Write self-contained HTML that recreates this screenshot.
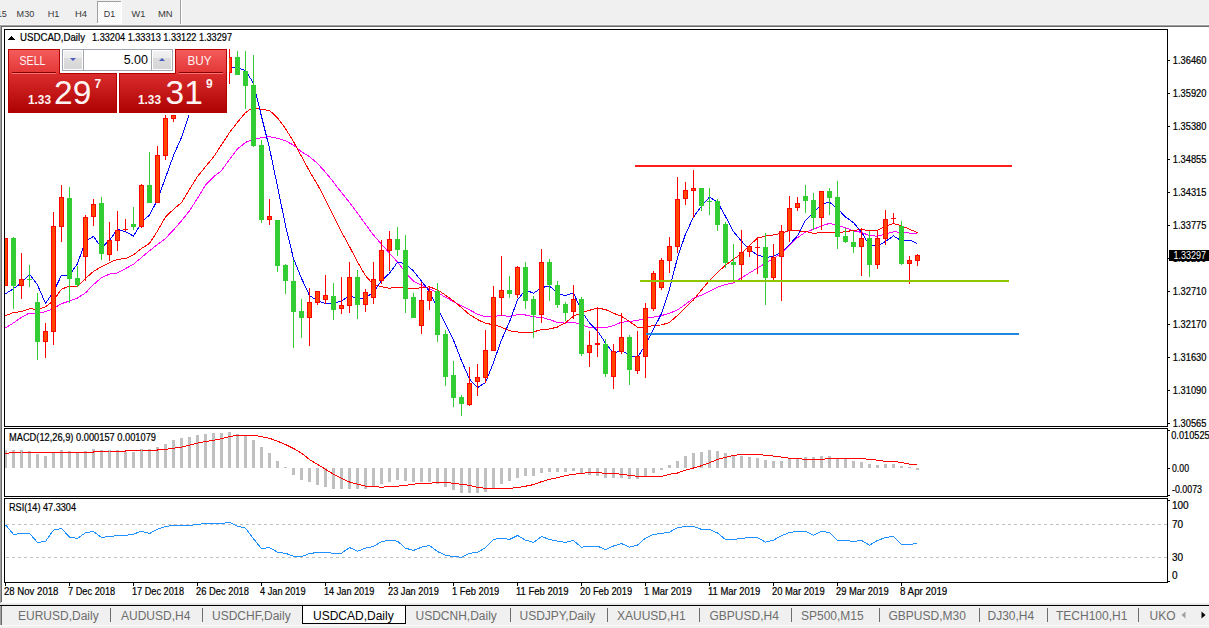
<!DOCTYPE html><html><head><meta charset="utf-8"><title>USDCAD,Daily</title><style>
html,body{margin:0;padding:0;background:#f0f0f0;}
body{width:1209px;height:628px;overflow:hidden;position:relative;}
svg{position:absolute;left:0;top:0;display:block}
text{font-family:"Liberation Sans",Arial,sans-serif;}
</style></head><body>
<svg width="1209" height="628" viewBox="0 0 1209 628">
<defs>
<linearGradient id="gTab" x1="0" y1="0" x2="0" y2="1"><stop offset="0" stop-color="#f45b5b"/><stop offset="1" stop-color="#e23535"/></linearGradient>
<linearGradient id="gPx" x1="0" y1="0" x2="0" y2="1"><stop offset="0" stop-color="#da2c2c"/><stop offset="1" stop-color="#ae0202"/></linearGradient>
<linearGradient id="gBtn" x1="0" y1="0" x2="0" y2="1"><stop offset="0" stop-color="#f2f2f2"/><stop offset="0.38" stop-color="#ebebeb"/><stop offset="0.4" stop-color="#dddddd"/><stop offset="1" stop-color="#d6d6d6"/></linearGradient>
<pattern id="dots" width="2" height="2" patternUnits="userSpaceOnUse"><rect width="2" height="2" fill="#f7f7f7"/><rect width="1" height="1" fill="#ffffff"/><rect x="1" y="1" width="1" height="1" fill="#ffffff"/></pattern>
<clipPath id="cMain"><rect x="5" y="30" width="1162" height="396"/></clipPath>
<clipPath id="cMacd"><rect x="5" y="429" width="1162" height="67"/></clipPath>
<clipPath id="cRsi"><rect x="5" y="499" width="1162" height="83"/></clipPath>
</defs>
<g shape-rendering="crispEdges">
<rect x="0" y="0" width="1209" height="25" fill="#f0f0f0"/>
<rect x="0" y="24" width="1209" height="1" fill="#f6f6f6"/>
<rect x="97" y="1" width="25" height="22" fill="url(#dots)"/>
<rect x="97" y="1" width="24" height="1" fill="#a0a0a0"/><rect x="97" y="1" width="1" height="22" fill="#a0a0a0"/>
<rect x="121" y="1" width="1" height="23" fill="#ffffff"/><rect x="97" y="23" width="25" height="1" fill="#ffffff"/>
<rect x="180" y="0" width="1" height="24" fill="#a0a0a0"/><rect x="181" y="0" width="1" height="24" fill="#ffffff"/>
<rect x="0" y="25" width="1209" height="1" fill="#a0a0a0"/>
<rect x="1" y="26" width="1208" height="1" fill="#696969"/>
<rect x="2" y="27" width="1207" height="576" fill="#ffffff"/>
<rect x="0" y="25" width="1" height="578" fill="#a0a0a0"/>
<rect x="1" y="26" width="1" height="576" fill="#696969"/>
<rect x="0" y="603" width="1209" height="1" fill="#f0f0f0"/>
<rect x="0" y="604" width="1209" height="1" fill="#e3e3e3"/>
<rect x="0" y="605" width="1209" height="1" fill="#000000"/>
<rect x="0" y="606" width="1209" height="19" fill="#f0f0f0"/>
<rect x="0" y="625" width="1209" height="1" fill="#fafafa"/>
<rect x="0" y="626" width="1209" height="2" fill="#f0f0f0"/>
<rect x="0" y="606" width="1" height="19" fill="#a0a0a0"/><rect x="1" y="606" width="1" height="19" fill="#696969"/>
<rect x="4.5" y="29.5" width="1163" height="397" fill="none" stroke="#000" stroke-width="1"/>
<rect x="4.5" y="428.5" width="1163" height="68" fill="none" stroke="#000" stroke-width="1"/>
<rect x="4.5" y="498.5" width="1163" height="84" fill="none" stroke="#000" stroke-width="1"/>
</g>
<g clip-path="url(#cMain)" shape-rendering="crispEdges">
<polyline points="5.5,328.0 13.5,322.9 21.5,317.3 29.5,313.0 37.5,313.0 45.5,311.7 53.5,308.5 61.5,303.7 69.5,301.0 77.5,298.0 85.5,292.9 93.5,284.6 101.5,277.7 109.5,274.1 117.5,273.0 125.5,268.6 133.5,264.2 141.5,257.5 149.5,250.8 157.5,244.4 165.5,238.4 173.5,229.9 181.5,220.8 189.5,210.8 197.5,198.3 205.5,185.2 213.5,176.9 221.5,170.6 229.5,159.5 237.5,149.0 245.5,142.4 253.5,139.4 261.5,137.8 269.5,136.6 277.5,138.3 285.5,140.8 293.5,145.1 301.5,151.7 309.5,156.7 317.5,163.5 325.5,172.3 333.5,182.1 341.5,192.6 349.5,202.4 357.5,213.1 365.5,224.2 373.5,235.1 381.5,244.2 389.5,253.2 397.5,262.0 405.5,272.6 413.5,281.2 421.5,285.3 429.5,289.1 437.5,292.5 445.5,297.3 453.5,301.6 461.5,305.9 469.5,309.9 477.5,314.2 485.5,317.0 493.5,316.4 501.5,315.6 509.5,316.4 517.5,314.6 525.5,315.0 533.5,316.8 541.5,317.4 549.5,319.6 557.5,322.4 565.5,323.1 573.5,322.1 581.5,324.8 589.5,327.5 597.5,327.9 605.5,327.8 613.5,325.5 621.5,322.2 629.5,321.5 637.5,320.4 645.5,318.4 653.5,317.1 661.5,315.6 669.5,313.3 677.5,309.9 685.5,304.4 693.5,298.1 701.5,295.2 709.5,291.1 717.5,287.1 725.5,284.6 733.5,282.9 741.5,277.8 749.5,272.9 757.5,268.1 765.5,263.2 773.5,258.6 781.5,253.2 789.5,245.2 797.5,237.6 805.5,232.2 813.5,229.3 821.5,225.9 829.5,223.4 837.5,225.3 845.5,227.8 853.5,230.8 861.5,232.4 869.5,235.6 877.5,236.2 885.5,234.1 893.5,231.8 901.5,232.3 909.5,233.1 917.5,233.4" fill="none" stroke="#ff00ff" stroke-width="1" shape-rendering="crispEdges"/>
<polyline points="5.5,315.7 13.5,312.5 21.5,311.7 29.5,308.8 37.5,309.3 45.5,306.9 53.5,300.5 61.5,289.1 69.5,286.2 77.5,286.5 85.5,278.5 93.5,271.4 101.5,266.6 109.5,262.6 117.5,259.3 125.5,258.7 133.5,254.8 141.5,248.5 149.5,243.4 157.5,231.0 165.5,216.8 173.5,209.4 181.5,202.6 189.5,189.4 197.5,176.5 205.5,166.7 213.5,157.1 221.5,144.8 229.5,132.6 237.5,122.2 245.5,112.6 253.5,107.2 261.5,109.5 269.5,110.4 277.5,117.8 285.5,128.6 293.5,141.6 301.5,156.4 309.5,171.2 317.5,184.6 325.5,199.6 333.5,216.2 341.5,231.9 349.5,246.6 357.5,261.9 365.5,275.7 373.5,284.6 381.5,286.7 389.5,288.2 397.5,287.2 405.5,288.4 413.5,288.8 421.5,287.6 429.5,286.9 437.5,289.8 445.5,295.2 453.5,301.0 461.5,307.6 469.5,314.6 477.5,319.5 485.5,323.4 493.5,324.6 501.5,327.2 509.5,330.8 517.5,332.0 525.5,332.2 533.5,332.0 541.5,329.4 549.5,329.0 557.5,327.0 565.5,322.7 573.5,316.2 581.5,312.8 589.5,310.3 597.5,308.0 605.5,309.6 613.5,313.2 621.5,316.3 629.5,321.4 637.5,327.3 645.5,327.8 653.5,325.1 661.5,325.0 669.5,322.4 677.5,315.4 685.5,307.3 693.5,299.9 701.5,290.0 709.5,280.4 717.5,272.5 725.5,265.1 733.5,259.3 741.5,253.6 749.5,245.4 757.5,238.2 765.5,236.1 773.5,235.0 781.5,233.1 789.5,230.6 797.5,230.8 805.5,231.5 813.5,233.4 821.5,232.5 829.5,232.2 837.5,233.0 845.5,231.6 853.5,230.4 861.5,229.5 869.5,230.7 877.5,230.1 885.5,226.2 893.5,223.6 901.5,225.8 909.5,229.2 917.5,232.7" fill="none" stroke="#ff0000" stroke-width="1" shape-rendering="crispEdges"/>
<polyline points="5.5,293.9 13.5,288.6 21.5,283.0 29.5,274.3 37.5,284.9 45.5,303.5 53.5,291.7 61.5,275.3 69.5,275.1 77.5,263.7 85.5,240.9 93.5,236.5 101.5,247.7 109.5,240.1 117.5,229.3 125.5,231.7 133.5,236.1 141.5,222.5 149.5,214.9 157.5,199.9 165.5,177.7 173.5,155.5 181.5,137.5 189.5,113.1 197.5,100.3 205.5,90.7 213.5,79.7 221.5,74.5 229.5,67.5 237.5,68.0 245.5,70.4 253.5,83.3 261.5,116.5 269.5,148.3 277.5,186.5 285.5,225.5 293.5,258.7 301.5,278.3 309.5,295.5 317.5,300.7 325.5,303.7 333.5,303.3 341.5,300.9 349.5,295.9 357.5,298.5 365.5,297.9 373.5,291.9 381.5,280.9 389.5,273.3 397.5,262.3 405.5,263.5 413.5,271.1 421.5,281.1 429.5,291.5 437.5,308.5 445.5,324.1 453.5,340.1 461.5,360.7 469.5,379.1 477.5,387.7 485.5,382.5 493.5,362.5 501.5,339.9 509.5,321.9 517.5,299.9 525.5,289.9 533.5,293.3 541.5,287.7 549.5,285.9 557.5,293.3 565.5,295.7 573.5,292.7 581.5,310.9 589.5,323.1 597.5,330.9 605.5,343.1 613.5,353.5 621.5,350.3 629.5,355.1 637.5,357.7 645.5,344.7 653.5,329.1 661.5,313.7 669.5,289.1 677.5,257.7 685.5,234.1 693.5,217.1 701.5,206.1 709.5,197.1 717.5,202.1 725.5,216.5 733.5,231.7 741.5,241.1 749.5,250.1 757.5,254.7 765.5,257.7 773.5,256.3 781.5,252.1 789.5,244.5 797.5,235.7 805.5,220.3 813.5,212.3 821.5,204.3 829.5,202.1 837.5,208.7 845.5,216.9 853.5,222.7 861.5,232.1 869.5,245.5 877.5,245.9 885.5,241.5 893.5,235.9 901.5,240.9 909.5,240.1 917.5,243.5" fill="none" stroke="#0000ff" stroke-width="1" shape-rendering="crispEdges"/>
<rect x="5" y="238" width="1" height="48" fill="#ff0000"/>
<rect x="3" y="238" width="5" height="48" fill="#ff0000"/>
<rect x="4" y="239" width="3" height="46" fill="#ff4500"/>
<rect x="13" y="237" width="1" height="72" fill="#32cd32"/>
<rect x="11" y="238" width="5" height="48" fill="#32cd32"/>
<rect x="21" y="253" width="1" height="46" fill="#ff0000"/>
<rect x="19" y="279" width="5" height="7" fill="#ff0000"/>
<rect x="20" y="280" width="3" height="5" fill="#ff4500"/>
<rect x="29" y="265" width="1" height="22" fill="#32cd32"/>
<rect x="27" y="279" width="5" height="1" fill="#32cd32"/>
<rect x="37" y="293" width="1" height="67" fill="#32cd32"/>
<rect x="35" y="302" width="5" height="40" fill="#32cd32"/>
<rect x="45" y="323" width="1" height="35" fill="#ff0000"/>
<rect x="43" y="331" width="5" height="11" fill="#ff0000"/>
<rect x="44" y="332" width="3" height="9" fill="#ff4500"/>
<rect x="53" y="212" width="1" height="133" fill="#ff0000"/>
<rect x="51" y="226" width="5" height="106" fill="#ff0000"/>
<rect x="52" y="227" width="3" height="104" fill="#ff4500"/>
<rect x="61" y="185" width="1" height="57" fill="#ff0000"/>
<rect x="59" y="197" width="5" height="30" fill="#ff0000"/>
<rect x="60" y="198" width="3" height="28" fill="#ff4500"/>
<rect x="69" y="187" width="1" height="116" fill="#32cd32"/>
<rect x="67" y="198" width="5" height="81" fill="#32cd32"/>
<rect x="77" y="266" width="1" height="21" fill="#32cd32"/>
<rect x="75" y="278" width="5" height="7" fill="#32cd32"/>
<rect x="85" y="215" width="1" height="66" fill="#ff0000"/>
<rect x="83" y="217" width="5" height="40" fill="#ff0000"/>
<rect x="84" y="218" width="3" height="38" fill="#ff4500"/>
<rect x="93" y="199" width="1" height="27" fill="#ff0000"/>
<rect x="91" y="204" width="5" height="13" fill="#ff0000"/>
<rect x="92" y="205" width="3" height="11" fill="#ff4500"/>
<rect x="101" y="197" width="1" height="63" fill="#32cd32"/>
<rect x="99" y="203" width="5" height="51" fill="#32cd32"/>
<rect x="109" y="222" width="1" height="39" fill="#ff0000"/>
<rect x="107" y="240" width="5" height="15" fill="#ff0000"/>
<rect x="108" y="241" width="3" height="13" fill="#ff4500"/>
<rect x="117" y="211" width="1" height="40" fill="#ff0000"/>
<rect x="115" y="230" width="5" height="11" fill="#ff0000"/>
<rect x="116" y="231" width="3" height="9" fill="#ff4500"/>
<rect x="125" y="219" width="1" height="12" fill="#ff0000"/>
<rect x="123" y="229" width="5" height="1" fill="#ff0000"/>
<rect x="133" y="207" width="1" height="23" fill="#32cd32"/>
<rect x="131" y="224" width="5" height="3" fill="#32cd32"/>
<rect x="141" y="184" width="1" height="44" fill="#ff0000"/>
<rect x="139" y="185" width="5" height="42" fill="#ff0000"/>
<rect x="140" y="186" width="3" height="40" fill="#ff4500"/>
<rect x="149" y="152" width="1" height="51" fill="#32cd32"/>
<rect x="147" y="185" width="5" height="18" fill="#32cd32"/>
<rect x="157" y="146" width="1" height="57" fill="#ff0000"/>
<rect x="155" y="155" width="5" height="48" fill="#ff0000"/>
<rect x="156" y="156" width="3" height="46" fill="#ff4500"/>
<rect x="165" y="110" width="1" height="50" fill="#ff0000"/>
<rect x="163" y="118" width="5" height="38" fill="#ff0000"/>
<rect x="164" y="119" width="3" height="36" fill="#ff4500"/>
<rect x="173" y="105" width="1" height="17" fill="#ff0000"/>
<rect x="171" y="115" width="5" height="4" fill="#ff0000"/>
<rect x="172" y="116" width="3" height="2" fill="#ff4500"/>
<rect x="181" y="88" width="1" height="24" fill="#ff0000"/>
<rect x="179" y="95" width="5" height="15" fill="#ff0000"/>
<rect x="180" y="96" width="3" height="13" fill="#ff4500"/>
<rect x="189" y="72" width="1" height="28" fill="#ff0000"/>
<rect x="187" y="80" width="5" height="16" fill="#ff0000"/>
<rect x="188" y="81" width="3" height="14" fill="#ff4500"/>
<rect x="197" y="70" width="1" height="26" fill="#32cd32"/>
<rect x="195" y="80" width="5" height="12" fill="#32cd32"/>
<rect x="205" y="62" width="1" height="33" fill="#ff0000"/>
<rect x="203" y="70" width="5" height="22" fill="#ff0000"/>
<rect x="204" y="71" width="3" height="20" fill="#ff4500"/>
<rect x="213" y="55" width="1" height="23" fill="#ff0000"/>
<rect x="211" y="60" width="5" height="12" fill="#ff0000"/>
<rect x="212" y="61" width="3" height="10" fill="#ff4500"/>
<rect x="221" y="52" width="1" height="23" fill="#32cd32"/>
<rect x="219" y="60" width="5" height="10" fill="#32cd32"/>
<rect x="229" y="49" width="1" height="35" fill="#ff0000"/>
<rect x="227" y="57" width="5" height="16" fill="#ff0000"/>
<rect x="228" y="58" width="3" height="14" fill="#ff4500"/>
<rect x="237" y="51" width="1" height="24" fill="#32cd32"/>
<rect x="235" y="57" width="5" height="18" fill="#32cd32"/>
<rect x="245" y="51" width="1" height="58" fill="#32cd32"/>
<rect x="243" y="71" width="5" height="15" fill="#32cd32"/>
<rect x="253" y="55" width="1" height="92" fill="#32cd32"/>
<rect x="251" y="85" width="5" height="61" fill="#32cd32"/>
<rect x="261" y="140" width="1" height="83" fill="#32cd32"/>
<rect x="259" y="145" width="5" height="75" fill="#32cd32"/>
<rect x="269" y="199" width="1" height="26" fill="#ff0000"/>
<rect x="267" y="216" width="5" height="4" fill="#ff0000"/>
<rect x="268" y="217" width="3" height="2" fill="#ff4500"/>
<rect x="277" y="220" width="1" height="52" fill="#32cd32"/>
<rect x="275" y="220" width="5" height="46" fill="#32cd32"/>
<rect x="285" y="264" width="1" height="30" fill="#32cd32"/>
<rect x="283" y="265" width="5" height="16" fill="#32cd32"/>
<rect x="293" y="260" width="1" height="88" fill="#32cd32"/>
<rect x="291" y="281" width="5" height="31" fill="#32cd32"/>
<rect x="301" y="299" width="1" height="39" fill="#32cd32"/>
<rect x="299" y="311" width="5" height="7" fill="#32cd32"/>
<rect x="309" y="288" width="1" height="58" fill="#ff0000"/>
<rect x="307" y="302" width="5" height="16" fill="#ff0000"/>
<rect x="308" y="303" width="3" height="14" fill="#ff4500"/>
<rect x="317" y="291" width="1" height="14" fill="#ff0000"/>
<rect x="315" y="291" width="5" height="12" fill="#ff0000"/>
<rect x="316" y="292" width="3" height="10" fill="#ff4500"/>
<rect x="325" y="275" width="1" height="29" fill="#ff0000"/>
<rect x="323" y="295" width="5" height="5" fill="#ff0000"/>
<rect x="324" y="296" width="3" height="3" fill="#ff4500"/>
<rect x="333" y="283" width="1" height="37" fill="#32cd32"/>
<rect x="331" y="296" width="5" height="14" fill="#32cd32"/>
<rect x="341" y="277" width="1" height="37" fill="#ff0000"/>
<rect x="339" y="305" width="5" height="4" fill="#ff0000"/>
<rect x="340" y="306" width="3" height="2" fill="#ff4500"/>
<rect x="349" y="262" width="1" height="51" fill="#ff0000"/>
<rect x="347" y="277" width="5" height="29" fill="#ff0000"/>
<rect x="348" y="278" width="3" height="27" fill="#ff4500"/>
<rect x="357" y="270" width="1" height="49" fill="#32cd32"/>
<rect x="355" y="277" width="5" height="28" fill="#32cd32"/>
<rect x="365" y="289" width="1" height="23" fill="#ff0000"/>
<rect x="363" y="292" width="5" height="13" fill="#ff0000"/>
<rect x="364" y="293" width="3" height="11" fill="#ff4500"/>
<rect x="373" y="262" width="1" height="42" fill="#ff0000"/>
<rect x="371" y="279" width="5" height="19" fill="#ff0000"/>
<rect x="372" y="280" width="3" height="17" fill="#ff4500"/>
<rect x="381" y="240" width="1" height="44" fill="#ff0000"/>
<rect x="379" y="250" width="5" height="31" fill="#ff0000"/>
<rect x="380" y="251" width="3" height="29" fill="#ff4500"/>
<rect x="389" y="231" width="1" height="40" fill="#ff0000"/>
<rect x="387" y="239" width="5" height="12" fill="#ff0000"/>
<rect x="388" y="240" width="3" height="10" fill="#ff4500"/>
<rect x="397" y="227" width="1" height="29" fill="#32cd32"/>
<rect x="395" y="239" width="5" height="11" fill="#32cd32"/>
<rect x="405" y="235" width="1" height="78" fill="#32cd32"/>
<rect x="403" y="250" width="5" height="49" fill="#32cd32"/>
<rect x="413" y="293" width="1" height="25" fill="#32cd32"/>
<rect x="411" y="297" width="5" height="21" fill="#32cd32"/>
<rect x="421" y="282" width="1" height="52" fill="#ff0000"/>
<rect x="419" y="300" width="5" height="26" fill="#ff0000"/>
<rect x="420" y="301" width="3" height="24" fill="#ff4500"/>
<rect x="429" y="287" width="1" height="23" fill="#ff0000"/>
<rect x="427" y="291" width="5" height="10" fill="#ff0000"/>
<rect x="428" y="292" width="3" height="8" fill="#ff4500"/>
<rect x="437" y="283" width="1" height="59" fill="#32cd32"/>
<rect x="435" y="291" width="5" height="44" fill="#32cd32"/>
<rect x="445" y="330" width="1" height="56" fill="#32cd32"/>
<rect x="443" y="334" width="5" height="43" fill="#32cd32"/>
<rect x="453" y="361" width="1" height="46" fill="#32cd32"/>
<rect x="451" y="375" width="5" height="23" fill="#32cd32"/>
<rect x="461" y="395" width="1" height="21" fill="#32cd32"/>
<rect x="459" y="397" width="5" height="7" fill="#32cd32"/>
<rect x="469" y="367" width="1" height="39" fill="#ff0000"/>
<rect x="467" y="383" width="5" height="22" fill="#ff0000"/>
<rect x="468" y="384" width="3" height="20" fill="#ff4500"/>
<rect x="477" y="364" width="1" height="32" fill="#ff0000"/>
<rect x="475" y="377" width="5" height="5" fill="#ff0000"/>
<rect x="476" y="378" width="3" height="3" fill="#ff4500"/>
<rect x="485" y="330" width="1" height="53" fill="#ff0000"/>
<rect x="483" y="350" width="5" height="28" fill="#ff0000"/>
<rect x="484" y="351" width="3" height="26" fill="#ff4500"/>
<rect x="493" y="286" width="1" height="65" fill="#ff0000"/>
<rect x="491" y="297" width="5" height="54" fill="#ff0000"/>
<rect x="492" y="298" width="3" height="52" fill="#ff4500"/>
<rect x="501" y="256" width="1" height="60" fill="#ff0000"/>
<rect x="499" y="290" width="5" height="8" fill="#ff0000"/>
<rect x="500" y="291" width="3" height="6" fill="#ff4500"/>
<rect x="509" y="276" width="1" height="22" fill="#32cd32"/>
<rect x="507" y="290" width="5" height="4" fill="#32cd32"/>
<rect x="517" y="266" width="1" height="32" fill="#ff0000"/>
<rect x="515" y="267" width="5" height="28" fill="#ff0000"/>
<rect x="516" y="268" width="3" height="26" fill="#ff4500"/>
<rect x="525" y="262" width="1" height="47" fill="#32cd32"/>
<rect x="523" y="267" width="5" height="34" fill="#32cd32"/>
<rect x="533" y="296" width="1" height="42" fill="#32cd32"/>
<rect x="531" y="299" width="5" height="16" fill="#32cd32"/>
<rect x="541" y="249" width="1" height="74" fill="#ff0000"/>
<rect x="539" y="262" width="5" height="53" fill="#ff0000"/>
<rect x="540" y="263" width="3" height="51" fill="#ff4500"/>
<rect x="549" y="259" width="1" height="42" fill="#32cd32"/>
<rect x="547" y="262" width="5" height="23" fill="#32cd32"/>
<rect x="557" y="281" width="1" height="27" fill="#32cd32"/>
<rect x="555" y="285" width="5" height="20" fill="#32cd32"/>
<rect x="565" y="302" width="1" height="19" fill="#32cd32"/>
<rect x="563" y="304" width="5" height="9" fill="#32cd32"/>
<rect x="573" y="285" width="1" height="34" fill="#ff0000"/>
<rect x="571" y="299" width="5" height="13" fill="#ff0000"/>
<rect x="572" y="300" width="3" height="11" fill="#ff4500"/>
<rect x="581" y="297" width="1" height="59" fill="#32cd32"/>
<rect x="579" y="299" width="5" height="55" fill="#32cd32"/>
<rect x="589" y="331" width="1" height="36" fill="#ff0000"/>
<rect x="587" y="345" width="5" height="8" fill="#ff0000"/>
<rect x="588" y="346" width="3" height="6" fill="#ff4500"/>
<rect x="597" y="308" width="1" height="49" fill="#ff0000"/>
<rect x="595" y="343" width="5" height="2" fill="#ff0000"/>
<rect x="605" y="339" width="1" height="38" fill="#32cd32"/>
<rect x="603" y="344" width="5" height="30" fill="#32cd32"/>
<rect x="613" y="344" width="1" height="45" fill="#ff0000"/>
<rect x="611" y="351" width="5" height="26" fill="#ff0000"/>
<rect x="612" y="352" width="3" height="24" fill="#ff4500"/>
<rect x="621" y="313" width="1" height="41" fill="#ff0000"/>
<rect x="619" y="337" width="5" height="15" fill="#ff0000"/>
<rect x="620" y="338" width="3" height="13" fill="#ff4500"/>
<rect x="629" y="335" width="1" height="50" fill="#32cd32"/>
<rect x="627" y="337" width="5" height="33" fill="#32cd32"/>
<rect x="637" y="331" width="1" height="43" fill="#ff0000"/>
<rect x="635" y="356" width="5" height="15" fill="#ff0000"/>
<rect x="636" y="357" width="3" height="13" fill="#ff4500"/>
<rect x="645" y="303" width="1" height="75" fill="#ff0000"/>
<rect x="643" y="308" width="5" height="49" fill="#ff0000"/>
<rect x="644" y="309" width="3" height="47" fill="#ff4500"/>
<rect x="653" y="271" width="1" height="40" fill="#ff0000"/>
<rect x="651" y="273" width="5" height="36" fill="#ff0000"/>
<rect x="652" y="274" width="3" height="34" fill="#ff4500"/>
<rect x="661" y="258" width="1" height="32" fill="#ff0000"/>
<rect x="659" y="260" width="5" height="28" fill="#ff0000"/>
<rect x="660" y="261" width="3" height="26" fill="#ff4500"/>
<rect x="669" y="237" width="1" height="36" fill="#ff0000"/>
<rect x="667" y="246" width="5" height="15" fill="#ff0000"/>
<rect x="668" y="247" width="3" height="13" fill="#ff4500"/>
<rect x="677" y="177" width="1" height="76" fill="#ff0000"/>
<rect x="675" y="199" width="5" height="48" fill="#ff0000"/>
<rect x="676" y="200" width="3" height="46" fill="#ff4500"/>
<rect x="685" y="182" width="1" height="23" fill="#ff0000"/>
<rect x="683" y="190" width="5" height="9" fill="#ff0000"/>
<rect x="684" y="191" width="3" height="7" fill="#ff4500"/>
<rect x="693" y="170" width="1" height="48" fill="#ff0000"/>
<rect x="691" y="188" width="5" height="3" fill="#ff0000"/>
<rect x="692" y="189" width="3" height="1" fill="#ff4500"/>
<rect x="701" y="188" width="1" height="23" fill="#32cd32"/>
<rect x="699" y="188" width="5" height="18" fill="#32cd32"/>
<rect x="709" y="188" width="1" height="27" fill="#32cd32"/>
<rect x="707" y="201" width="5" height="1" fill="#32cd32"/>
<rect x="717" y="199" width="1" height="32" fill="#32cd32"/>
<rect x="715" y="201" width="5" height="24" fill="#32cd32"/>
<rect x="725" y="222" width="1" height="46" fill="#32cd32"/>
<rect x="723" y="224" width="5" height="39" fill="#32cd32"/>
<rect x="733" y="244" width="1" height="37" fill="#32cd32"/>
<rect x="731" y="262" width="5" height="3" fill="#32cd32"/>
<rect x="741" y="230" width="1" height="50" fill="#ff0000"/>
<rect x="739" y="252" width="5" height="13" fill="#ff0000"/>
<rect x="740" y="253" width="3" height="11" fill="#ff4500"/>
<rect x="749" y="246" width="1" height="11" fill="#ff0000"/>
<rect x="747" y="246" width="5" height="6" fill="#ff0000"/>
<rect x="748" y="247" width="3" height="4" fill="#ff4500"/>
<rect x="757" y="237" width="1" height="37" fill="#ff0000"/>
<rect x="755" y="247" width="5" height="1" fill="#ff0000"/>
<rect x="765" y="233" width="1" height="72" fill="#32cd32"/>
<rect x="763" y="247" width="5" height="31" fill="#32cd32"/>
<rect x="773" y="244" width="1" height="36" fill="#ff0000"/>
<rect x="771" y="257" width="5" height="21" fill="#ff0000"/>
<rect x="772" y="258" width="3" height="19" fill="#ff4500"/>
<rect x="781" y="225" width="1" height="76" fill="#ff0000"/>
<rect x="779" y="231" width="5" height="26" fill="#ff0000"/>
<rect x="780" y="232" width="3" height="24" fill="#ff4500"/>
<rect x="789" y="196" width="1" height="46" fill="#ff0000"/>
<rect x="787" y="208" width="5" height="23" fill="#ff0000"/>
<rect x="788" y="209" width="3" height="21" fill="#ff4500"/>
<rect x="797" y="197" width="1" height="14" fill="#ff0000"/>
<rect x="795" y="203" width="5" height="5" fill="#ff0000"/>
<rect x="796" y="204" width="3" height="3" fill="#ff4500"/>
<rect x="805" y="185" width="1" height="28" fill="#32cd32"/>
<rect x="803" y="196" width="5" height="5" fill="#32cd32"/>
<rect x="813" y="193" width="1" height="37" fill="#32cd32"/>
<rect x="811" y="200" width="5" height="18" fill="#32cd32"/>
<rect x="821" y="191" width="1" height="39" fill="#ff0000"/>
<rect x="819" y="191" width="5" height="27" fill="#ff0000"/>
<rect x="820" y="192" width="3" height="25" fill="#ff4500"/>
<rect x="829" y="188" width="1" height="27" fill="#32cd32"/>
<rect x="827" y="191" width="5" height="7" fill="#32cd32"/>
<rect x="837" y="181" width="1" height="68" fill="#32cd32"/>
<rect x="835" y="197" width="5" height="40" fill="#32cd32"/>
<rect x="845" y="228" width="1" height="15" fill="#32cd32"/>
<rect x="843" y="236" width="5" height="6" fill="#32cd32"/>
<rect x="853" y="231" width="1" height="22" fill="#32cd32"/>
<rect x="851" y="242" width="5" height="5" fill="#32cd32"/>
<rect x="861" y="228" width="1" height="48" fill="#ff0000"/>
<rect x="859" y="238" width="5" height="9" fill="#ff0000"/>
<rect x="860" y="239" width="3" height="7" fill="#ff4500"/>
<rect x="869" y="231" width="1" height="46" fill="#32cd32"/>
<rect x="867" y="238" width="5" height="27" fill="#32cd32"/>
<rect x="877" y="230" width="1" height="39" fill="#ff0000"/>
<rect x="875" y="238" width="5" height="27" fill="#ff0000"/>
<rect x="876" y="239" width="3" height="25" fill="#ff4500"/>
<rect x="885" y="210" width="1" height="35" fill="#ff0000"/>
<rect x="883" y="219" width="5" height="20" fill="#ff0000"/>
<rect x="884" y="220" width="3" height="18" fill="#ff4500"/>
<rect x="893" y="213" width="1" height="10" fill="#ff0000"/>
<rect x="891" y="218" width="5" height="1" fill="#ff0000"/>
<rect x="901" y="221" width="1" height="44" fill="#32cd32"/>
<rect x="899" y="226" width="5" height="38" fill="#32cd32"/>
<rect x="909" y="256" width="1" height="28" fill="#ff0000"/>
<rect x="907" y="260" width="5" height="4" fill="#ff0000"/>
<rect x="908" y="261" width="3" height="2" fill="#ff4500"/>
<rect x="917" y="254" width="1" height="12" fill="#ff0000"/>
<rect x="915" y="255" width="5" height="6" fill="#ff0000"/>
<rect x="916" y="256" width="3" height="4" fill="#ff4500"/>
<rect x="635" y="165" width="377" height="2" fill="#ff1e1e"/>
<rect x="640" y="280" width="369" height="2" fill="#8fc600"/>
<rect x="646" y="333" width="373" height="2" fill="#2087de"/>
</g>
<g clip-path="url(#cMacd)" shape-rendering="crispEdges">
<rect x="4" y="450" width="3" height="18" fill="#c0c0c0"/>
<rect x="12" y="450" width="3" height="18" fill="#c0c0c0"/>
<rect x="20" y="450" width="3" height="18" fill="#c0c0c0"/>
<rect x="28" y="451" width="3" height="17" fill="#c0c0c0"/>
<rect x="36" y="454" width="3" height="14" fill="#c0c0c0"/>
<rect x="44" y="456" width="3" height="12" fill="#c0c0c0"/>
<rect x="52" y="452" width="3" height="16" fill="#c0c0c0"/>
<rect x="60" y="450" width="3" height="18" fill="#c0c0c0"/>
<rect x="68" y="451" width="3" height="17" fill="#c0c0c0"/>
<rect x="76" y="452" width="3" height="16" fill="#c0c0c0"/>
<rect x="84" y="451" width="3" height="17" fill="#c0c0c0"/>
<rect x="92" y="449" width="3" height="19" fill="#c0c0c0"/>
<rect x="100" y="450" width="3" height="18" fill="#c0c0c0"/>
<rect x="108" y="450" width="3" height="18" fill="#c0c0c0"/>
<rect x="116" y="450" width="3" height="18" fill="#c0c0c0"/>
<rect x="124" y="452" width="3" height="16" fill="#c0c0c0"/>
<rect x="132" y="452" width="3" height="16" fill="#c0c0c0"/>
<rect x="140" y="449" width="3" height="19" fill="#c0c0c0"/>
<rect x="148" y="449" width="3" height="19" fill="#c0c0c0"/>
<rect x="156" y="447" width="3" height="21" fill="#c0c0c0"/>
<rect x="164" y="444" width="3" height="24" fill="#c0c0c0"/>
<rect x="172" y="440" width="3" height="28" fill="#c0c0c0"/>
<rect x="180" y="438" width="3" height="30" fill="#c0c0c0"/>
<rect x="188" y="437" width="3" height="31" fill="#c0c0c0"/>
<rect x="196" y="435" width="3" height="33" fill="#c0c0c0"/>
<rect x="204" y="434" width="3" height="34" fill="#c0c0c0"/>
<rect x="212" y="433" width="3" height="35" fill="#c0c0c0"/>
<rect x="220" y="433" width="3" height="35" fill="#c0c0c0"/>
<rect x="228" y="432" width="3" height="36" fill="#c0c0c0"/>
<rect x="236" y="434" width="3" height="34" fill="#c0c0c0"/>
<rect x="244" y="436" width="3" height="32" fill="#c0c0c0"/>
<rect x="252" y="440" width="3" height="28" fill="#c0c0c0"/>
<rect x="260" y="447" width="3" height="21" fill="#c0c0c0"/>
<rect x="268" y="453" width="3" height="15" fill="#c0c0c0"/>
<rect x="276" y="461" width="3" height="7" fill="#c0c0c0"/>
<rect x="284" y="467" width="3" height="1" fill="#c0c0c0"/>
<rect x="292" y="468" width="3" height="7" fill="#c0c0c0"/>
<rect x="300" y="468" width="3" height="12" fill="#c0c0c0"/>
<rect x="308" y="468" width="3" height="14" fill="#c0c0c0"/>
<rect x="316" y="468" width="3" height="17" fill="#c0c0c0"/>
<rect x="324" y="468" width="3" height="19" fill="#c0c0c0"/>
<rect x="332" y="468" width="3" height="21" fill="#c0c0c0"/>
<rect x="340" y="468" width="3" height="21" fill="#c0c0c0"/>
<rect x="348" y="468" width="3" height="21" fill="#c0c0c0"/>
<rect x="356" y="468" width="3" height="21" fill="#c0c0c0"/>
<rect x="364" y="468" width="3" height="21" fill="#c0c0c0"/>
<rect x="372" y="468" width="3" height="18" fill="#c0c0c0"/>
<rect x="380" y="468" width="3" height="16" fill="#c0c0c0"/>
<rect x="388" y="468" width="3" height="14" fill="#c0c0c0"/>
<rect x="396" y="468" width="3" height="12" fill="#c0c0c0"/>
<rect x="404" y="468" width="3" height="13" fill="#c0c0c0"/>
<rect x="412" y="468" width="3" height="14" fill="#c0c0c0"/>
<rect x="420" y="468" width="3" height="14" fill="#c0c0c0"/>
<rect x="428" y="468" width="3" height="14" fill="#c0c0c0"/>
<rect x="436" y="468" width="3" height="16" fill="#c0c0c0"/>
<rect x="444" y="468" width="3" height="19" fill="#c0c0c0"/>
<rect x="452" y="468" width="3" height="22" fill="#c0c0c0"/>
<rect x="460" y="468" width="3" height="25" fill="#c0c0c0"/>
<rect x="468" y="468" width="3" height="25" fill="#c0c0c0"/>
<rect x="476" y="468" width="3" height="25" fill="#c0c0c0"/>
<rect x="484" y="468" width="3" height="24" fill="#c0c0c0"/>
<rect x="492" y="468" width="3" height="20" fill="#c0c0c0"/>
<rect x="500" y="468" width="3" height="16" fill="#c0c0c0"/>
<rect x="508" y="468" width="3" height="13" fill="#c0c0c0"/>
<rect x="516" y="468" width="3" height="10" fill="#c0c0c0"/>
<rect x="524" y="468" width="3" height="8" fill="#c0c0c0"/>
<rect x="532" y="468" width="3" height="8" fill="#c0c0c0"/>
<rect x="540" y="468" width="3" height="5" fill="#c0c0c0"/>
<rect x="548" y="468" width="3" height="4" fill="#c0c0c0"/>
<rect x="556" y="468" width="3" height="4" fill="#c0c0c0"/>
<rect x="564" y="468" width="3" height="4" fill="#c0c0c0"/>
<rect x="572" y="468" width="3" height="3" fill="#c0c0c0"/>
<rect x="580" y="468" width="3" height="5" fill="#c0c0c0"/>
<rect x="588" y="468" width="3" height="7" fill="#c0c0c0"/>
<rect x="596" y="468" width="3" height="8" fill="#c0c0c0"/>
<rect x="604" y="468" width="3" height="10" fill="#c0c0c0"/>
<rect x="612" y="468" width="3" height="10" fill="#c0c0c0"/>
<rect x="620" y="468" width="3" height="10" fill="#c0c0c0"/>
<rect x="628" y="468" width="3" height="11" fill="#c0c0c0"/>
<rect x="636" y="468" width="3" height="11" fill="#c0c0c0"/>
<rect x="644" y="468" width="3" height="8" fill="#c0c0c0"/>
<rect x="652" y="468" width="3" height="5" fill="#c0c0c0"/>
<rect x="660" y="468" width="3" height="2" fill="#c0c0c0"/>
<rect x="668" y="465" width="3" height="3" fill="#c0c0c0"/>
<rect x="676" y="461" width="3" height="7" fill="#c0c0c0"/>
<rect x="684" y="456" width="3" height="12" fill="#c0c0c0"/>
<rect x="692" y="453" width="3" height="15" fill="#c0c0c0"/>
<rect x="700" y="452" width="3" height="16" fill="#c0c0c0"/>
<rect x="708" y="450" width="3" height="18" fill="#c0c0c0"/>
<rect x="716" y="451" width="3" height="17" fill="#c0c0c0"/>
<rect x="724" y="453" width="3" height="15" fill="#c0c0c0"/>
<rect x="732" y="456" width="3" height="12" fill="#c0c0c0"/>
<rect x="740" y="456" width="3" height="12" fill="#c0c0c0"/>
<rect x="748" y="457" width="3" height="11" fill="#c0c0c0"/>
<rect x="756" y="458" width="3" height="10" fill="#c0c0c0"/>
<rect x="764" y="460" width="3" height="8" fill="#c0c0c0"/>
<rect x="772" y="461" width="3" height="7" fill="#c0c0c0"/>
<rect x="780" y="461" width="3" height="7" fill="#c0c0c0"/>
<rect x="788" y="458" width="3" height="10" fill="#c0c0c0"/>
<rect x="796" y="458" width="3" height="10" fill="#c0c0c0"/>
<rect x="804" y="457" width="3" height="11" fill="#c0c0c0"/>
<rect x="812" y="457" width="3" height="11" fill="#c0c0c0"/>
<rect x="820" y="456" width="3" height="12" fill="#c0c0c0"/>
<rect x="828" y="456" width="3" height="12" fill="#c0c0c0"/>
<rect x="836" y="458" width="3" height="10" fill="#c0c0c0"/>
<rect x="844" y="458" width="3" height="10" fill="#c0c0c0"/>
<rect x="852" y="461" width="3" height="7" fill="#c0c0c0"/>
<rect x="860" y="462" width="3" height="6" fill="#c0c0c0"/>
<rect x="868" y="464" width="3" height="4" fill="#c0c0c0"/>
<rect x="876" y="465" width="3" height="3" fill="#c0c0c0"/>
<rect x="884" y="464" width="3" height="4" fill="#c0c0c0"/>
<rect x="892" y="464" width="3" height="4" fill="#c0c0c0"/>
<rect x="900" y="466" width="3" height="2" fill="#c0c0c0"/>
<rect x="908" y="467" width="3" height="1" fill="#c0c0c0"/>
<rect x="916" y="468" width="3" height="2" fill="#c0c0c0"/>
<polyline points="5.5,453.5 13.5,452.3 21.5,452.0 29.5,452.0 37.5,452.0 45.5,452.0 53.5,452.0 61.5,452.0 69.5,452.0 77.5,452.0 85.5,452.0 93.5,452.0 101.5,451.5 109.5,451.0 117.5,451.0 125.5,451.0 133.5,450.5 141.5,450.0 149.5,450.0 157.5,450.0 165.5,449.4 173.5,448.2 181.5,447.2 189.5,445.2 197.5,443.2 205.5,441.5 213.5,440.3 221.5,438.6 229.5,436.6 237.5,435.3 245.5,435.3 253.5,435.3 261.5,436.6 269.5,438.3 277.5,441.2 285.5,444.5 293.5,448.5 301.5,453.1 309.5,459.5 317.5,464.4 325.5,469.3 333.5,474.3 341.5,478.3 349.5,482.0 357.5,484.2 365.5,486.2 373.5,486.2 381.5,487.3 389.5,486.2 397.5,486.2 405.5,485.3 413.5,484.2 421.5,483.3 429.5,483.3 437.5,482.3 445.5,482.3 453.5,483.3 461.5,484.4 469.5,485.3 477.5,487.3 485.5,488.3 493.5,488.3 501.5,488.3 509.5,488.3 517.5,487.6 525.5,486.2 533.5,484.6 541.5,481.6 549.5,479.4 557.5,477.6 565.5,475.6 573.5,474.3 581.5,473.4 589.5,472.6 597.5,472.6 605.5,473.4 613.5,473.4 621.5,474.3 629.5,475.4 637.5,476.3 645.5,476.3 653.5,476.3 661.5,476.3 669.5,474.3 677.5,473.0 685.5,470.1 693.5,468.0 701.5,465.7 709.5,462.7 717.5,459.5 725.5,457.4 733.5,455.5 741.5,454.5 749.5,454.5 757.5,454.5 765.5,455.2 773.5,456.1 781.5,457.1 789.5,458.2 797.5,458.4 805.5,459.4 813.5,459.4 821.5,459.4 829.5,458.4 837.5,458.4 845.5,458.4 853.5,458.4 861.5,458.4 869.5,459.4 877.5,460.2 885.5,461.4 893.5,461.4 901.5,462.4 909.5,464.1 917.5,464.4" fill="none" stroke="#ff0000" stroke-width="1" shape-rendering="crispEdges"/>
</g>
<g clip-path="url(#cRsi)" shape-rendering="crispEdges">
<line x1="6" y1="524.5" x2="1167" y2="524.5" stroke="#c0c0c0" stroke-dasharray="3,3"/>
<line x1="6" y1="557.5" x2="1167" y2="557.5" stroke="#c0c0c0" stroke-dasharray="3,3"/>
<polyline points="5.5,524.8 13.5,534.4 21.5,533.5 29.5,533.5 37.5,542.4 45.5,541.5 53.5,530.1 61.5,528.5 69.5,537.1 77.5,538.4 85.5,532.8 93.5,531.4 101.5,537.5 109.5,536.5 117.5,535.7 125.5,535.5 133.5,534.1 141.5,531.2 149.5,533.5 157.5,529.1 165.5,526.4 173.5,525.4 181.5,525.4 189.5,525.4 197.5,524.5 205.5,523.4 213.5,523.4 221.5,523.4 229.5,522.5 237.5,526.1 245.5,528.1 253.5,538.8 261.5,548.6 269.5,547.5 277.5,552.2 285.5,553.3 293.5,556.2 301.5,556.5 309.5,553.6 317.5,552.4 325.5,552.4 333.5,553.3 341.5,553.3 349.5,547.5 357.5,551.2 365.5,548.2 373.5,546.4 381.5,541.5 389.5,540.5 397.5,541.1 405.5,548.2 413.5,550.4 421.5,547.2 429.5,545.5 437.5,551.5 445.5,555.3 453.5,556.5 461.5,557.3 469.5,553.3 477.5,552.2 485.5,547.8 493.5,539.5 501.5,538.1 509.5,539.5 517.5,535.5 525.5,540.1 533.5,542.4 541.5,536.5 549.5,539.5 557.5,541.2 565.5,542.4 573.5,540.5 581.5,547.2 589.5,546.2 597.5,546.2 605.5,549.5 613.5,546.0 621.5,543.5 629.5,547.2 637.5,545.1 645.5,538.1 653.5,534.4 661.5,533.5 669.5,532.1 677.5,527.7 685.5,526.4 693.5,526.4 701.5,529.4 709.5,529.4 717.5,533.0 725.5,539.5 733.5,539.5 741.5,538.4 749.5,537.5 757.5,537.5 765.5,542.1 773.5,540.1 781.5,535.7 789.5,532.5 797.5,531.4 805.5,531.4 813.5,535.2 821.5,531.4 829.5,532.5 837.5,540.5 845.5,540.5 853.5,541.5 861.5,540.5 869.5,545.1 877.5,540.5 885.5,537.5 893.5,536.5 901.5,544.4 909.5,544.4 917.5,543.5" fill="none" stroke="#1e90ff" stroke-width="1" shape-rendering="crispEdges"/>
</g>
<g shape-rendering="crispEdges">
<rect x="5" y="45" width="224" height="70" fill="#ffffff"/>
<rect x="9" y="50" width="50" height="24" fill="url(#gTab)"/>
<rect x="9" y="74" width="107" height="38" fill="url(#gPx)"/>
<path d="M8.5 113 V49.5 H59.5 V73.5 H116.5 V112.5 H8" fill="none" stroke="#b20000" stroke-width="1"/>
<rect x="12" y="72" width="44" height="1" fill="#8a0000"/><rect x="12" y="73" width="44" height="1" fill="#ff7272"/>
<rect x="176" y="50" width="50" height="24" fill="url(#gTab)"/>
<rect x="120" y="74" width="106" height="38" fill="url(#gPx)"/>
<path d="M175.5 74 V49.5 H226.5 V112.5 H119.5 V73.5 H175.5" fill="none" stroke="#b20000" stroke-width="1"/>
<rect x="179" y="72" width="44" height="1" fill="#8a0000"/><rect x="179" y="73" width="44" height="1" fill="#ff7272"/>
<rect x="62.5" y="49.5" width="110" height="21" fill="#ffffff" stroke="#a2a6ae" stroke-width="1"/>
<rect x="64" y="51" width="18" height="18" fill="url(#gBtn)"/>
<rect x="83" y="50" width="1" height="20" fill="#a2a6ae"/>
<rect x="153" y="51" width="18" height="18" fill="url(#gBtn)"/>
<rect x="151" y="50" width="1" height="20" fill="#a2a6ae"/>
</g>
<path d="M70 58 H76 L73 61 Z" fill="#4a5cc4"/>
<path d="M159 61 H165 L162 58 Z" fill="#4a5cc4"/>
<text x="148" y="64" font-size="12.5px" fill="#000" text-anchor="end">5.00</text>
<g fill="#fff4f4">
<text x="19.5" y="65" font-size="12.5px" textLength="26" lengthAdjust="spacingAndGlyphs">SELL</text>
<text x="187.5" y="65" font-size="12.5px" textLength="24" lengthAdjust="spacingAndGlyphs">BUY</text>
<text x="28" y="104" font-size="12px" font-weight="bold" textLength="23" lengthAdjust="spacingAndGlyphs">1.33</text>
<text x="54" y="104" font-size="33.5px">29</text>
<text x="94.5" y="88" font-size="12px" font-weight="bold">7</text>
<text x="138" y="104" font-size="12px" font-weight="bold" textLength="23" lengthAdjust="spacingAndGlyphs">1.33</text>
<text x="165.5" y="104" font-size="33.5px">31</text>
<text x="206" y="88" font-size="12px" font-weight="bold">9</text>
</g>
<g shape-rendering="crispEdges" fill="#000">
<rect x="1168" y="60" width="2" height="1"/>
<rect x="1168" y="93" width="2" height="1"/>
<rect x="1168" y="126" width="2" height="1"/>
<rect x="1168" y="159" width="2" height="1"/>
<rect x="1168" y="192" width="2" height="1"/>
<rect x="1168" y="225" width="2" height="1"/>
<rect x="1168" y="258" width="2" height="1"/>
<rect x="1168" y="291" width="2" height="1"/>
<rect x="1168" y="324" width="2" height="1"/>
<rect x="1168" y="357" width="2" height="1"/>
<rect x="1168" y="390" width="2" height="1"/>
<rect x="1168" y="423" width="2" height="1"/>
<rect x="1168" y="430" width="2" height="1"/>
<rect x="1168" y="468" width="2" height="1"/>
<rect x="1168" y="495" width="2" height="1"/>
<rect x="1168" y="500" width="2" height="1"/>
<rect x="1168" y="581" width="2" height="1"/>
<rect x="5" y="583" width="1" height="3"/>
<rect x="69" y="583" width="1" height="3"/>
<rect x="133" y="583" width="1" height="3"/>
<rect x="197" y="583" width="1" height="3"/>
<rect x="261" y="583" width="1" height="3"/>
<rect x="325" y="583" width="1" height="3"/>
<rect x="389" y="583" width="1" height="3"/>
<rect x="453" y="583" width="1" height="3"/>
<rect x="517" y="583" width="1" height="3"/>
<rect x="581" y="583" width="1" height="3"/>
<rect x="645" y="583" width="1" height="3"/>
<rect x="709" y="583" width="1" height="3"/>
<rect x="773" y="583" width="1" height="3"/>
<rect x="837" y="583" width="1" height="3"/>
<rect x="901" y="583" width="1" height="3"/>
</g>
<g font-size="10px" fill="#000" stroke="#000" stroke-width="0.2">
<text x="1172.8" y="64" textLength="33.6" lengthAdjust="spacingAndGlyphs">1.36460</text>
<text x="1172.8" y="97" textLength="33.6" lengthAdjust="spacingAndGlyphs">1.35920</text>
<text x="1172.8" y="130" textLength="33.6" lengthAdjust="spacingAndGlyphs">1.35380</text>
<text x="1172.8" y="163" textLength="33.6" lengthAdjust="spacingAndGlyphs">1.34855</text>
<text x="1172.8" y="196" textLength="33.6" lengthAdjust="spacingAndGlyphs">1.34315</text>
<text x="1172.8" y="229" textLength="33.6" lengthAdjust="spacingAndGlyphs">1.33775</text>
<text x="1172.8" y="295" textLength="33.6" lengthAdjust="spacingAndGlyphs">1.32710</text>
<text x="1172.8" y="328" textLength="33.6" lengthAdjust="spacingAndGlyphs">1.32170</text>
<text x="1172.8" y="361" textLength="33.6" lengthAdjust="spacingAndGlyphs">1.31630</text>
<text x="1172.8" y="394" textLength="33.6" lengthAdjust="spacingAndGlyphs">1.31090</text>
<text x="1172.8" y="427" textLength="33.6" lengthAdjust="spacingAndGlyphs">1.30565</text>
<text x="1171.2" y="439" textLength="38.5" lengthAdjust="spacingAndGlyphs">0.010525</text>
<text x="1172" y="472" textLength="17" lengthAdjust="spacingAndGlyphs">0.00</text>
<text x="1172" y="493" textLength="30" lengthAdjust="spacingAndGlyphs">-0.0073</text>
<text x="1172" y="509">100</text>
<text x="1172" y="528">70</text>
<text x="1172" y="561">30</text>
<text x="1172" y="579">0</text>
<text x="4" y="595" textLength="54.4" lengthAdjust="spacingAndGlyphs">28 Nov 2018</text>
<text x="68" y="595" textLength="47.2" lengthAdjust="spacingAndGlyphs">7 Dec 2018</text>
<text x="132" y="595" textLength="52.0" lengthAdjust="spacingAndGlyphs">17 Dec 2018</text>
<text x="196" y="595" textLength="53.0" lengthAdjust="spacingAndGlyphs">26 Dec 2018</text>
<text x="260" y="595" textLength="45.6" lengthAdjust="spacingAndGlyphs">4 Jan 2019</text>
<text x="324" y="595" textLength="50.4" lengthAdjust="spacingAndGlyphs">14 Jan 2019</text>
<text x="388" y="595" textLength="50.8" lengthAdjust="spacingAndGlyphs">23 Jan 2019</text>
<text x="452" y="595" textLength="47.3" lengthAdjust="spacingAndGlyphs">1 Feb 2019</text>
<text x="516" y="595" textLength="52.6" lengthAdjust="spacingAndGlyphs">11 Feb 2019</text>
<text x="580" y="595" textLength="52.1" lengthAdjust="spacingAndGlyphs">20 Feb 2019</text>
<text x="644" y="595" textLength="47.8" lengthAdjust="spacingAndGlyphs">1 Mar 2019</text>
<text x="708" y="595" textLength="52.3" lengthAdjust="spacingAndGlyphs">11 Mar 2019</text>
<text x="772" y="595" textLength="52.7" lengthAdjust="spacingAndGlyphs">20 Mar 2019</text>
<text x="836" y="595" textLength="52.6" lengthAdjust="spacingAndGlyphs">29 Mar 2019</text>
<text x="900" y="595" textLength="47.3" lengthAdjust="spacingAndGlyphs">8 Apr 2019</text>
<text x="20" y="41" textLength="65" lengthAdjust="spacingAndGlyphs">USDCAD,Daily</text>
<text x="92" y="41" textLength="140" lengthAdjust="spacingAndGlyphs">1.33204 1.33313 1.33122 1.33297</text>
<text x="9" y="441" textLength="147" lengthAdjust="spacingAndGlyphs">MACD(12,26,9) 0.000157 0.001079</text>
<text x="9" y="511" textLength="67" lengthAdjust="spacingAndGlyphs">RSI(14) 47.3304</text>
</g>
<text x="1172.8" y="262" font-size="10px" textLength="33.6" lengthAdjust="spacingAndGlyphs">1.33235</text>
<rect x="1169" y="250" width="40" height="11" fill="#000" shape-rendering="crispEdges"/>
<text x="1173.5" y="259" font-size="10px" fill="#fff" textLength="32.5" lengthAdjust="spacingAndGlyphs">1.33297</text>
<g shape-rendering="crispEdges" fill="#000"><rect x="11" y="36" width="1" height="1"/><rect x="10" y="37" width="3" height="1"/><rect x="9" y="38" width="5" height="1"/><rect x="8" y="39" width="7" height="1"/></g>
<g font-size="9.4px" fill="#383838">
<text x="-10.7" y="17" textLength="17.599999999999998" lengthAdjust="spacingAndGlyphs">M15</text>
<text x="16.6" y="17" textLength="17.599999999999998" lengthAdjust="spacingAndGlyphs">M30</text>
<text x="47.699999999999996" y="17" textLength="11.700000000000001" lengthAdjust="spacingAndGlyphs">H1</text>
<text x="75.0" y="17" textLength="12.1" lengthAdjust="spacingAndGlyphs">H4</text>
<text x="103.7" y="17" textLength="11.4" lengthAdjust="spacingAndGlyphs">D1</text>
<text x="131.5" y="17" textLength="13.8" lengthAdjust="spacingAndGlyphs">W1</text>
<text x="157.9" y="17" textLength="14.700000000000001" lengthAdjust="spacingAndGlyphs">MN</text>
</g>
<g font-size="12px" fill="#6d6d6d">
<text x="18" y="620">EURUSD,Daily</text>
<text x="121" y="620">AUDUSD,H4</text>
<text x="212" y="620">USDCHF,Daily</text>
</g>
<g shape-rendering="crispEdges" fill="#6d6d6d">
<rect x="110" y="608" width="1" height="14"/>
<rect x="202" y="608" width="1" height="14"/>
</g>
<g font-size="12px" fill="#6d6d6d">
<text x="415.5" y="620">USDCNH,Daily</text>
<text x="519.5" y="620">USDJPY,Daily</text>
<text x="617" y="620">XAUUSD,H1</text>
<text x="709.5" y="620">GBPUSD,H4</text>
<text x="801" y="620">SP500,M15</text>
<text x="888.5" y="620">GBPUSD,M30</text>
<text x="987.5" y="620">DJ30,H4</text>
<text x="1056" y="620">TECH100,H1</text>
<text x="1149.5" y="620">UKO</text>
</g>
<g shape-rendering="crispEdges" fill="#6d6d6d">
<rect x="510" y="608" width="1" height="14"/>
<rect x="607" y="608" width="1" height="14"/>
<rect x="699" y="608" width="1" height="14"/>
<rect x="791" y="608" width="1" height="14"/>
<rect x="879" y="608" width="1" height="14"/>
<rect x="979" y="608" width="1" height="14"/>
<rect x="1047" y="608" width="1" height="14"/>
<rect x="1138" y="608" width="1" height="14"/>
</g>
<path d="M1185.5 611.5 L1181.5 615 L1185.5 618.5 Z" fill="#a0a0a0"/>
<path d="M1201.5 611.5 L1205.5 615 L1201.5 618.5 Z" fill="#000"/>
<path d="M302.5 605.5 V623.5 H405.5 V605.5" fill="#fff" stroke="#000" stroke-width="1" shape-rendering="crispEdges"/>
<text x="313" y="620" font-size="12px" fill="#000">USDCAD,Daily</text>
</svg></body></html>
